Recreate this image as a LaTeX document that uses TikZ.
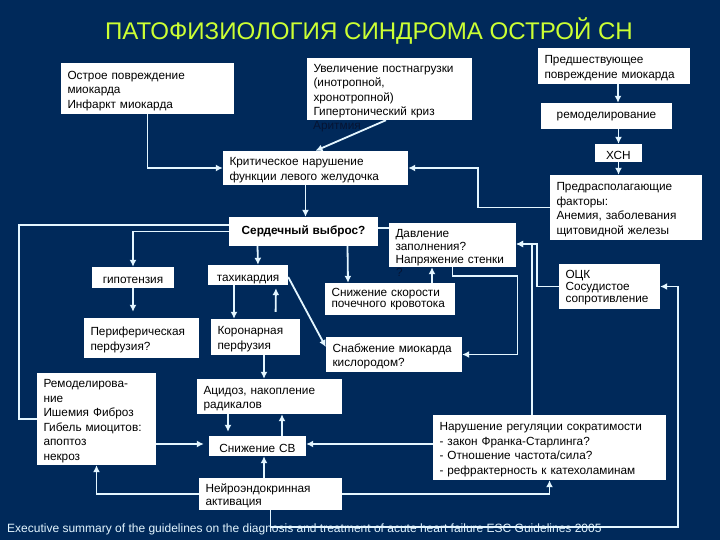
\documentclass[tikz,border=0pt]{standalone}
\usepackage{fontspec}
\setmainfont{Liberation Sans}
\usetikzlibrary{arrows.meta}
\definecolor{slideblue}{HTML}{00295A}
\definecolor{titlelime}{HTML}{CCFF33}
\definecolor{linkwhite}{HTML}{E4F6FF}
\definecolor{hiddenink}{HTML}{061433}
\tikzset{
	tdown/.style={execute at begin node={\rule{0pt}{\dimexpr8.6pt+#1\relax}}},
	tight/.style={font=\fontsize{11.8}{#1}\selectfont},
	pbox/.style 2 args={fill=white,inner xsep=6.5pt,inner ysep=0pt,text width=#1pt-13pt,minimum height=#2pt,align=left,tight=14.5pt,tdown=4pt},
	link/.style={draw=linkwhite,line width=1.8pt},
	arrow/.style={link,-{Latex[length=7pt,width=7pt,color=linkwhite]}}
}
\begin{document}
\begin{tikzpicture}[x=1pt,y=-1pt]
	\fill[slideblue] (0,0) rectangle (720,540); % slide background
	\useasboundingbox (0,0) rectangle (720,540);

	\node[font=\fontsize{24.1}{28}\selectfont,text=titlelime] (title) at (369,31) {ПАТОФИЗИОЛОГИЯ СИНДРОМА ОСТРОЙ СН};

	\node[pbox={173}{51}] (acute) at (147.5,88.5) {Острое повреждение\\миокарда\\Инфаркт миокарда};
	\node[pbox={165}{62}] (afterload) at (389.5,89) {Увеличение постнагрузки\\(инотропной,\\хронотропной)\\Гипертонический криз};
	\node[font=\fontsize{11.8}{14.5}\selectfont,text=hiddenink,anchor=west,inner sep=0pt] (arrhythmia) at (313,127) {Аритмия};
	\node[pbox={185}{34}] (crit) at (315.5,168) {Критическое нарушение\\функции левого желудочка};
	\node[pbox={149}{29},align=center,text depth=7pt,tdown=0pt] (output) at (303.5,231.5) {\textbf{Сердечный выброс?}};
	\node[pbox={127}{44},tight=13pt,tdown=3pt] (pressure) at (452.5,245) {Давление\\заполнения?\\Напряжение стенки};
	\node[font=\fontsize{11.8}{14.5}\selectfont,text=hiddenink,anchor=west,inner sep=0pt] (wallmark) at (396,272) {?};
	\node[pbox={82}{21},align=center] (hypot) at (133,277.5) {гипотензия};
	\node[pbox={80}{20},align=center,tdown=6pt] (tachy) at (248,275) {тахикардия};
	\node[pbox={130}{32},tight=11.5pt,tdown=0pt] (renal) at (390,299) {Снижение скорости\\почечного кровотока\rule[-7pt]{0pt}{1pt}};
	\node[pbox={115}{40},tdown=2pt] (perif) at (141.5,338) {Периферическая\\перфузия?};
	\node[pbox={89}{36},tdown=2pt] (coronary) at (255.5,337) {Коронарная\\перфузия};
	\node[pbox={136}{35},tdown=2pt] (supply) at (394,354.5) {Снабжение миокарда\\кислородом?};
	\node[pbox={119}{92}] (remodelling) at (96.5,419) {Ремоделирова-\\ние\\Ишемия Фиброз\\Гибель миоцитов:\\апоптоз\\некроз};
	\node[pbox={145}{35},tdown=3pt] (acid) at (269.5,396.5) {Ацидоз, накопление\\радикалов};
	\node[pbox={97}{20},align=center,tdown=0pt] (lowco) at (257.5,446) {Снижение СВ};
	\node[pbox={143}{32},tight=13pt,tdown=3pt] (neuro) at (270.5,494) {Нейроэндокринная\\активация};
	\node[pbox={233}{65}] (regulation) at (549.5,447.5) {Нарушение регуляции сократимости\\- закон Франка-Старлинга?\\- Отношение частота/сила?\\- рефрактерность к катехоламинам};
	\node[pbox={152}{36}] (prior) at (614,66) {Предшествующее\\повреждение миокарда};
	\node[pbox={131}{26},align=center,text depth=7pt,tdown=0pt] (remod) at (606.5,116) {ремоделирование};
	\node[pbox={47}{18},align=center,tdown=2pt] (chf) at (618.5,153) {ХСН};
	\node[pbox={152}{65},tdown=2pt] (predisp) at (626,207.5) {Предрасполагающие\\факторы:\\Анемия, заболевания\\щитовидной железы};
	\node[pbox={101}{45},tight=12pt,tdown=0pt] (volume) at (609.5,286.5) {ОЦК\\Сосудистое\\сопротивление\rule[-5pt]{0pt}{1pt}};

	\draw[arrow] (acute.south) |- (crit.west);
	\draw[arrow] ([xshift=-3.5pt]afterload.south) -- (crit.north);
	\draw[arrow] ([xshift=-10pt]crit.south) -- ([xshift=2pt]output.north);
	\draw[arrow] (predisp.west) -- ++(-72,0) |- (crit.east);

	\draw[arrow] (output.west) -| (hypot.north);
	\draw[link] ([yshift=6.5pt]output.west) -- ++(-210,0) |- (remodelling.west); % long way round on the left
	\draw[arrow] ([xshift=-46pt]output.south) -- ([xshift=10pt]tachy.north);
	\draw[arrow] ([xshift=44pt]output.south) -- ([xshift=-42pt]renal.north);
	\draw[link] ([yshift=3.5pt]output.east) -- ([yshift=17pt]pressure.west);
	\draw[arrow] ([xshift=42pt]renal.north) -- ([xshift=-20.5pt]pressure.south);
	\draw[arrow] (pressure.south) -- ++(0,8.5) -- ++(65,0) |- (supply.east);
	\draw[arrow] ([xshift=-17.5pt]regulation.north) |- ([yshift=1pt]pressure.east);
	\draw[arrow] (volume.west) -- ++(-22,0) |- ([yshift=1pt]pressure.east);

	\draw[arrow,shorten >=6pt] (hypot.south) -- ([xshift=-8.5pt]perif.north);
	\draw[arrow] ([xshift=-14pt]tachy.south) -- ([xshift=-21.5pt]coronary.north);
	\draw[arrow,shorten <=7pt,shorten >=3pt] ([xshift=20pt]coronary.north) -- ([xshift=28pt]tachy.south);
	\draw[arrow] ([yshift=-2pt]tachy.east) -- ([yshift=7.5pt]supply.west);
	\draw[arrow] ([xshift=8.5pt]coronary.south) -- ([xshift=-5.5pt]acid.north);
	\draw[arrow,shorten >=4pt] ([xshift=-41.5pt]acid.south) -- ([xshift=-29.5pt]lowco.north);
	\draw[arrow] ([xshift=24.5pt]lowco.north) -- ([xshift=12.5pt]acid.south);

	\draw[arrow,shorten >=5pt] ([yshift=-25pt]remodelling.east) -- ([yshift=2pt]lowco.west);
	\draw[arrow] ([yshift=3.5pt]regulation.west) -- ([yshift=2pt]lowco.east);
	\draw[arrow] ([xshift=-6.5pt]neuro.north) -- ([xshift=6.5pt]lowco.south);
	\draw[arrow] (neuro.west) -| (remodelling.south);
	\draw[arrow] (neuro.east) -| (regulation.south);
	\draw[arrow] (neuro.south) -- ++(0,17) -- ++(407.5,0) |- (volume.east); % bottom return line

	\draw[arrow] ([xshift=4pt]prior.south) -- ([xshift=11.5pt]remod.north);
	\draw[arrow] ([xshift=12pt]remod.south) -- (chf.north);
	\draw[arrow] (chf.south) -- ([xshift=-7.5pt]predisp.north);

	\node[font=\fontsize{12}{15}\selectfont,text=linkwhite,anchor=west,inner sep=0pt] (source) at (7,529) {Executive summary of the guidelines on the diagnosis and treatment of acute heart failure ESC Guidelines 2005};
\end{tikzpicture}
\end{document}
